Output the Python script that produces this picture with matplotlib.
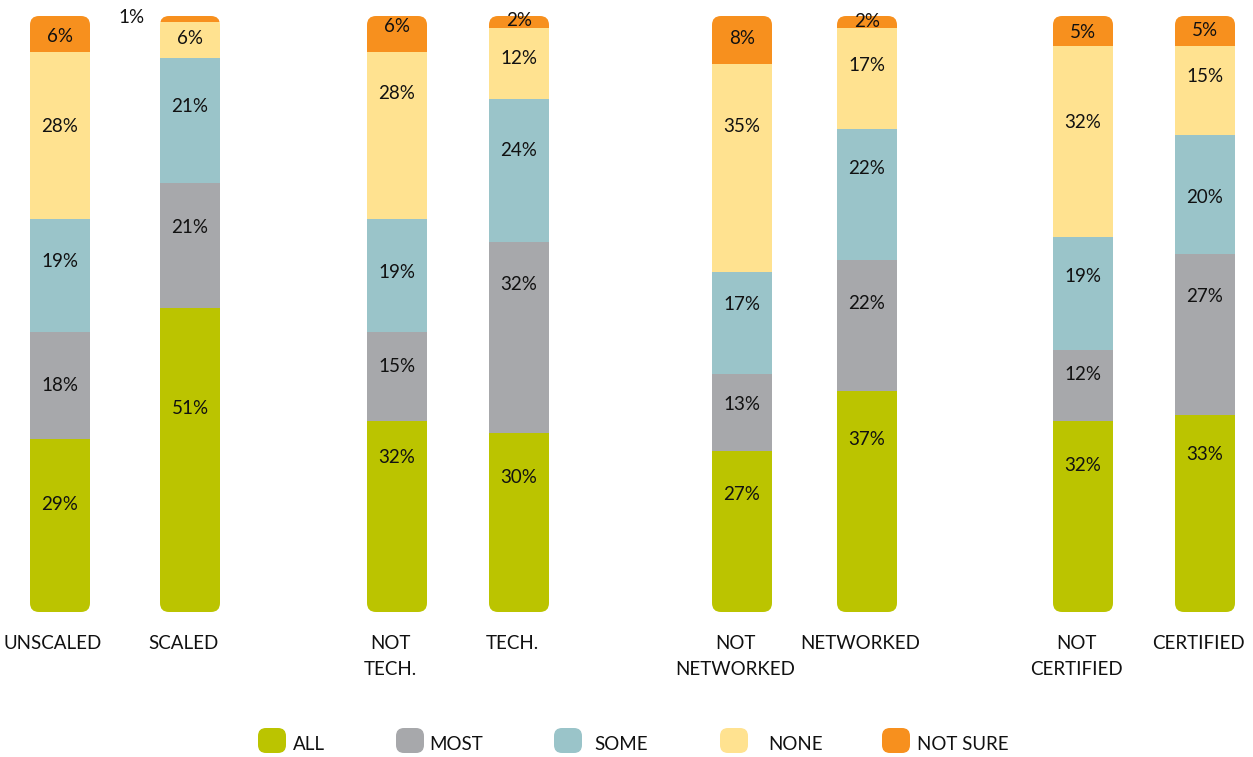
import matplotlib.pyplot as plt
from matplotlib.patches import FancyBboxPatch, Rectangle
import numpy as np

plt.rcParams['font.family'] = ['Lato', 'DejaVu Sans']

categories = ["UNSCALED", "SCALED", "NOT\nTECH.", "TECH.",
              "NOT\nNETWORKED", "NETWORKED", "NOT\nCERTIFIED", "CERTIFIED"]
series = ["ALL", "MOST", "SOME", "NONE", "NOT SURE"]
all_vals = [29, 51, 32, 30, 27, 37, 32, 33]
most_vals = [18, 21, 15, 32, 13, 22, 12, 27]
some_vals = [19, 21, 19, 24, 17, 22, 19, 20]
none_vals = [28, 6, 28, 12, 35, 17, 32, 15]
notsure_vals = [6, 1, 6, 2, 8, 2, 5, 5]

colors = ["#BBC400", "#A7A8AB", "#9AC4C9", "#FFE290", "#F7901E"]

# bar centres in pixels (layout only)
x_pos = [60, 190, 397, 519, 742, 867, 1083, 1205]
bar_w = 60
# where each value label sits inside its segment (0 = bottom, 1 = top)
label_frac = [
    [0.62, 0.67, 0.81, 0.75, 0.73, 0.78, 0.77, 0.80],
    [0.50, 0.64, 0.61, 0.78, 0.60, 0.67, 0.66, 0.74],
    [0.62, 0.61, 0.52, 0.64, 0.68, 0.70, 0.65, 0.48],
    [0.55, 0.55, 0.75, 0.57, 0.70, 0.63, 0.60, 0.66],
    [0.44, 0.50, 0.71, 0.65, 0.53, 0.50, 0.45, 0.50],
]

W, H = 1253, 757
fig = plt.figure(figsize=(W / 100, H / 100), dpi=100)
bot_px, top_px = 612, 16
ax = fig.add_axes([0, (H - bot_px) / H, 1, (bot_px - top_px) / H])
ax.set_xlim(0, W)
ax.set_ylim(0, 100)
ax.axis('off')

px_per_y = (bot_px - top_px) / 100.0
radius = 9

data = np.array([all_vals, most_vals, some_vals, none_vals, notsure_vals])
for i, x in enumerate(x_pos):
    total = data[:, i].sum()
    outline = FancyBboxPatch((x - bar_w / 2, 0), bar_w, total,
                             boxstyle=f"round,pad=0,rounding_size={radius}",
                             mutation_aspect=1 / px_per_y,
                             facecolor='none', edgecolor='none')
    ax.add_patch(outline)
    bottom = 0
    for s in range(len(series)):
        v = data[s, i]
        r = Rectangle((x - bar_w / 2, bottom), bar_w, v, facecolor=colors[s],
                      edgecolor='none')
        ax.add_patch(r)
        r.set_clip_path(outline)
        if v >= 2:
            ax.text(x, bottom + v * label_frac[s][i], f"{v}%", ha='center',
                    va='center', fontsize=13.5, color='#111111')
        else:
            # too thin: label sits outside, up and to the left
            ax.text(x - 59, bottom + v - 0.2, f"{v}%", ha='center', va='center',
                    fontsize=13.5, color='#111111', clip_on=False)
        bottom += v
    # category names sit a little left of the bar centre
    ax.text(x - 7, -3.9, categories[i], ha='center', va='top', fontsize=13.5,
            color='#111111', linespacing=1.6, clip_on=False)

# legend drawn in pixel coordinates
lax = fig.add_axes([0, 0, 1, 1])
lax.set_xlim(0, W)
lax.set_ylim(H, 0)
lax.axis('off')
lax.patch.set_alpha(0)
leg_marker_x = [258, 396, 554, 720, 882]
leg_text_x = [293, 429, 594, 768, 917]
for s in range(len(series)):
    lax.add_patch(FancyBboxPatch((leg_marker_x[s], 728), 28, 25,
                                 boxstyle="round,pad=0,rounding_size=8",
                                 facecolor=colors[s], edgecolor='none'))
    lax.text(leg_text_x[s], 744, series[s], ha='left', va='center',
             fontsize=13.5, color='#111111')

fig.savefig("out.png", dpi=100)
